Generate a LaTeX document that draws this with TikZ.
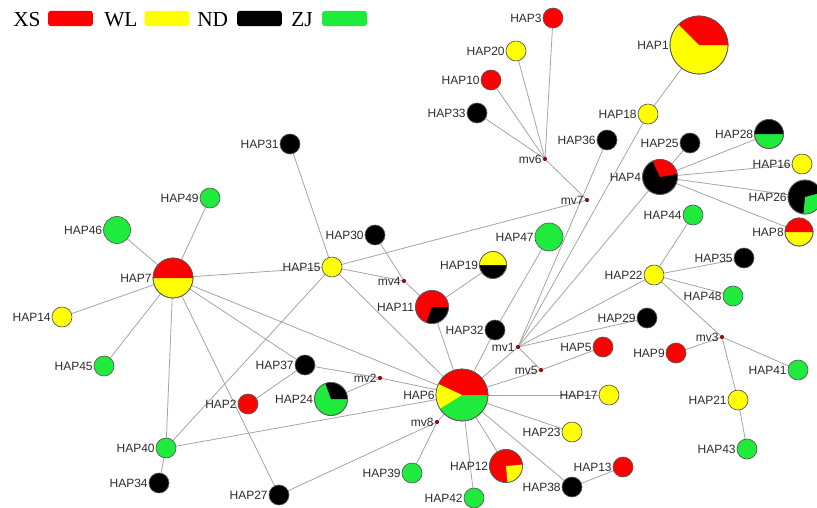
\documentclass[tikz,border=0pt]{standalone}
\usepackage{fontspec}
\setmainfont{Liberation Serif}
\newfontfamily\arialf{Liberation Sans}
\pgfdeclarelayer{bg}
\pgfsetlayers{bg,main}
\definecolor{cxs}{RGB}{255,0,0}
\definecolor{cwl}{RGB}{255,255,0}
\definecolor{cnd}{RGB}{0,0,0}
\definecolor{czj}{RGB}{30,235,60}
\definecolor{mvred}{RGB}{140,20,20}
\definecolor{labc}{RGB}{45,45,45}
\definecolor{edgec}{RGB}{165,165,165}
\newcommand\hapn[5]{\node[hap, minimum size={#4*0.75pt}, fill=#5, label={[lbl]left:#1}] (#1) at (#2,-#3) {};}
\newcommand\mvn[3]{\node[mvdot, label={[lbl]left:#1}] (#1) at (#2,-#3) {};}
\newcommand\piewedge[5]{\fill[#5] (#1.center) -- ++(#3:#2) arc[start angle=#3, end angle=#4, radius=#2] -- cycle;}
\newcommand\pieout[2]{\draw[outl] (#1.center) circle[radius=#2];}
\begin{document}
\begin{tikzpicture}[x=0.75pt,y=0.75pt,
  hap/.style={circle, inner sep=0pt, outer sep=0pt, draw=black!65, line width=0.5pt},
  outl/.style={draw=black!65, line width=0.5pt},
  mvdot/.style={circle, inner sep=0pt, outer sep=0pt, minimum size=3.2pt, fill=mvred},
  lbl/.style={font=\arialf\fontsize{9}{10}\selectfont, text=labc, inner sep=0.8pt},
  edge/.style={draw=edgec, line width=0.6pt},
  legtxt/.style={font=\fontsize{16}{18}\selectfont, anchor=base west, inner sep=0pt},
  legbox/.style={rounded corners=2pt, minimum width=33.5pt, minimum height=11.5pt, inner sep=0pt}]
\useasboundingbox (0,0) rectangle (817,-507);

% legend
\node[legtxt] (lxs) at (13,-26) {XS};
\node[legbox, fill=cxs] (bxs) at (70.5,-18.5) {};
\node[legtxt] (lwl) at (104,-26) {WL};
\node[legbox, fill=cwl] (bwl) at (167,-18.5) {};
\node[legtxt] (lnd) at (197,-26) {ND};
\node[legbox, fill=cnd] (bnd) at (259.5,-18.5) {};
\node[legtxt] (lzj) at (291,-26) {ZJ};
\node[legbox, fill=czj] (bzj) at (344.5,-18.5) {};

% haplotype nodes
\hapn{HAP1}{699}{45}{58}{cwl}
\hapn{HAP3}{553}{18}{20}{cxs}
\hapn{HAP20}{516}{51}{20}{cwl}
\hapn{HAP10}{491}{80}{20}{cxs}
\hapn{HAP33}{477}{113}{20}{cnd}
\hapn{HAP18}{648}{114}{20}{cwl}
\hapn{HAP36}{607}{140}{20}{cnd}
\hapn{HAP25}{690}{143}{20}{cnd}
\hapn{HAP28}{769}{134}{29}{czj}
\hapn{HAP16}{802}{164}{20}{cwl}
\hapn{HAP4}{660}{177}{35}{cnd}
\hapn{HAP26}{805}{197}{34}{cnd}
\hapn{HAP44}{693}{215}{20}{czj}
\hapn{HAP8}{799}{232}{28}{cwl}
\hapn{HAP47}{549}{237}{28}{czj}
\hapn{HAP35}{744}{258}{20}{cnd}
\hapn{HAP22}{654}{275}{20}{cwl}
\hapn{HAP48}{733}{296}{20}{czj}
\hapn{HAP29}{647}{318}{20}{cnd}
\hapn{HAP5}{603}{347}{20}{cxs}
\hapn{HAP9}{676}{353}{20}{cxs}
\hapn{HAP41}{798}{370}{20}{czj}
\hapn{HAP17}{609}{395}{20}{cwl}
\hapn{HAP21}{738}{400}{20}{cwl}
\hapn{HAP23}{572}{432}{20}{cwl}
\hapn{HAP43}{747}{449}{20}{czj}
\hapn{HAP12}{506}{466}{33}{cxs}
\hapn{HAP13}{623}{467}{20}{cxs}
\hapn{HAP38}{572}{487}{20}{cnd}
\hapn{HAP42}{474}{498}{20}{czj}
\hapn{HAP39}{412}{473}{20}{czj}
\hapn{HAP6}{462}{395}{52}{czj}
\hapn{HAP24}{331}{399}{33}{czj}
\hapn{HAP37}{305}{365}{20}{cnd}
\hapn{HAP2}{248}{404}{20}{cxs}
\hapn{HAP40}{166}{448}{20}{czj}
\hapn{HAP34}{159}{483}{20}{cnd}
\hapn{HAP27}{279}{495}{20}{cnd}
\hapn{HAP45}{104}{366}{20}{czj}
\hapn{HAP14}{62}{317}{20}{cwl}
\hapn{HAP7}{173}{278}{40}{cwl}
\hapn{HAP46}{117}{230}{27}{czj}
\hapn{HAP49}{210}{198}{20}{czj}
\hapn{HAP31}{290}{144}{20}{cnd}
\hapn{HAP15}{332}{267}{20}{cwl}
\hapn{HAP30}{375}{235}{20}{cnd}
\hapn{HAP19}{493}{265}{27}{cnd}
\hapn{HAP11}{432}{307}{33}{cxs}
\hapn{HAP32}{495}{330}{20}{cnd}

% median vectors
\mvn{mv1}{518}{347}
\mvn{mv2}{380}{378}
\mvn{mv3}{722}{337}
\mvn{mv4}{404}{281}
\mvn{mv5}{541}{370}
\mvn{mv6}{545}{159}
\mvn{mv7}{587}{200}
\mvn{mv8}{437}{422}

% pie sectors
\piewedge{HAP1}{29}{0}{135}{cxs}\pieout{HAP1}{29}
\piewedge{HAP4}{17.5}{10}{115}{cxs}\pieout{HAP4}{17.5}
\piewedge{HAP26}{17}{-95}{15}{czj}\pieout{HAP26}{17}
\piewedge{HAP28}{14.5}{0}{180}{cnd}\pieout{HAP28}{14.5}
\piewedge{HAP8}{14}{0}{180}{cxs}\pieout{HAP8}{14}
\piewedge{HAP7}{20}{0}{180}{cxs}\pieout{HAP7}{20}
\piewedge{HAP19}{13.5}{0}{180}{cwl}\pieout{HAP19}{13.5}
\piewedge{HAP11}{16.5}{-110}{0}{cnd}\pieout{HAP11}{16.5}
\piewedge{HAP12}{16.5}{-85}{5}{cwl}\pieout{HAP12}{16.5}
\piewedge{HAP6}{26}{0}{155}{cxs}\piewedge{HAP6}{26}{155}{212}{cwl}\pieout{HAP6}{26}
\piewedge{HAP24}{16.5}{0}{110}{cnd}\pieout{HAP24}{16.5}

% connectors
\begin{pgfonlayer}{bg}
\fill[white] (0,0) rectangle (817,-507);
\draw[edge] (mv6) -- (HAP3);
\draw[edge] (mv6) -- (HAP20);
\draw[edge] (mv6) -- (HAP10);
\draw[edge] (mv6) -- (HAP33);
\draw[edge] (mv6) -- (mv7);
\draw[edge] (mv7) -- (HAP15);
\draw[edge] (HAP1) -- (HAP18);
\draw[edge] (HAP18) -- (mv1);
\draw[edge] (HAP36) -- (mv1);
\draw[edge] (HAP4) -- (HAP25);
\draw[edge] (HAP4) -- (HAP28);
\draw[edge] (HAP4) -- (HAP16);
\draw[edge] (HAP4) -- (HAP26);
\draw[edge] (HAP4) -- (HAP8);
\draw[edge] (HAP4) -- (mv1);
\draw[edge] (HAP44) -- (HAP22);
\draw[edge] (HAP22) -- (HAP35);
\draw[edge] (HAP22) -- (HAP48);
\draw[edge] (HAP22) -- (mv3);
\draw[edge] (HAP22) -- (mv1);
\draw[edge] (mv3) -- (HAP9);
\draw[edge] (mv3) -- (HAP41);
\draw[edge] (mv3) -- (HAP21);
\draw[edge] (HAP21) -- (HAP43);
\draw[edge] (mv1) -- (HAP29);
\draw[edge] (mv1) -- (mv5);
\draw[edge] (mv1) -- (HAP6);
\draw[edge] (mv5) -- (HAP5);
\draw[edge] (mv5) -- (HAP6);
\draw[edge] (HAP47) -- (HAP32);
\draw[edge] (HAP32) -- (HAP6);
\draw[edge] (HAP6) -- (HAP17);
\draw[edge] (HAP6) -- (HAP23);
\draw[edge] (HAP6) -- (HAP38);
\draw[edge] (HAP6) -- (HAP12);
\draw[edge] (HAP6) -- (HAP42);
\draw[edge] (HAP6) -- (mv8);
\draw[edge] (HAP6) -- (mv2);
\draw[edge] (HAP6) -- (HAP7);
\draw[edge] (HAP6) -- (HAP15);
\draw[edge] (HAP6) -- (HAP11);
\draw[edge] (HAP6) -- (HAP40);
\draw[edge] (HAP38) -- (HAP13);
\draw[edge] (mv8) -- (HAP39);
\draw[edge] (mv8) -- (HAP27);
\draw[edge] (mv2) -- (HAP37);
\draw[edge] (mv2) -- (HAP24);
\draw[edge] (HAP7) -- (HAP15);
\draw[edge] (HAP7) -- (HAP46);
\draw[edge] (HAP7) -- (HAP49);
\draw[edge] (HAP7) -- (HAP14);
\draw[edge] (HAP7) -- (HAP45);
\draw[edge] (HAP7) -- (HAP40);
\draw[edge] (HAP7) -- (HAP27);
\draw[edge] (HAP7) -- (HAP37);
\draw[edge] (HAP15) -- (HAP31);
\draw[edge] (HAP15) -- (mv4);
\draw[edge] (HAP15) -- (HAP40);
\draw[edge] (mv4) -- (HAP30);
\draw[edge] (mv4) -- (HAP11);
\draw[edge] (HAP11) -- (HAP19);
\draw[edge] (HAP37) -- (HAP2);
\draw[edge] (HAP40) -- (HAP34);
\end{pgfonlayer}
\end{tikzpicture}
\end{document}
